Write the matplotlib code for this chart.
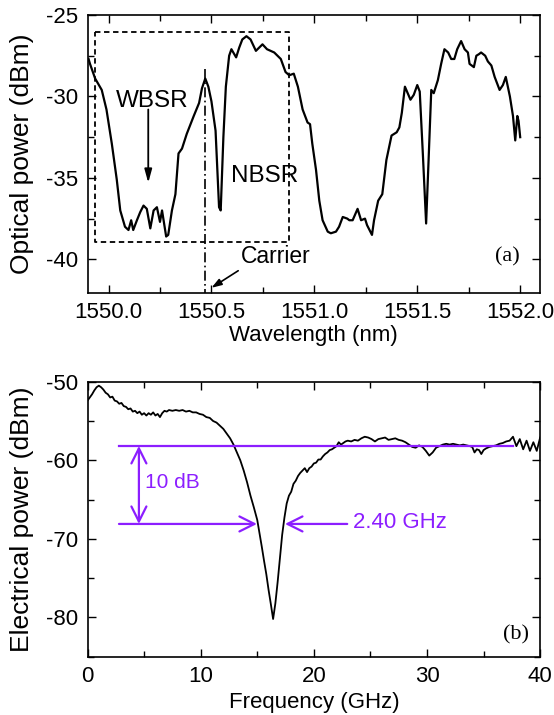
import matplotlib
matplotlib.use('Agg')
import matplotlib.pyplot as plt
from matplotlib.ticker import MultipleLocator

plt.rcParams['font.family'] = ['Liberation Sans', 'DejaVu Sans']
plt.rcParams['axes.unicode_minus'] = False

# panel (a): optical spectrum
wavelength = [1549.903, 1549.91, 1549.935, 1549.967, 1549.99, 1550.016, 1550.04, 1550.057,
              1550.08, 1550.097, 1550.11, 1550.12, 1550.138, 1550.154, 1550.17, 1550.186,
              1550.203, 1550.219, 1550.235, 1550.25, 1550.26, 1550.28, 1550.29, 1550.308,
              1550.325, 1550.34, 1550.357, 1550.38, 1550.414, 1550.44, 1550.454, 1550.47,
              1550.485, 1550.50, 1550.52, 1550.537, 1550.545, 1550.558, 1550.57, 1550.586,
              1550.597, 1550.62, 1550.635, 1550.65, 1550.67, 1550.69, 1550.716, 1550.748,
              1550.77, 1550.805, 1550.837, 1550.86, 1550.878, 1550.90, 1550.92, 1550.943,
              1550.967, 1550.979, 1550.99, 1551.008, 1551.024, 1551.04, 1551.065, 1551.08,
              1551.105, 1551.12, 1551.138, 1551.16, 1551.17, 1551.186, 1551.21, 1551.227,
              1551.246, 1551.256, 1551.28, 1551.29, 1551.31, 1551.33, 1551.35, 1551.375,
              1551.40, 1551.413, 1551.425, 1551.44, 1551.467, 1551.483, 1551.50, 1551.512,
              1551.527, 1551.543, 1551.555, 1551.568, 1551.58, 1551.60, 1551.616, 1551.632,
              1551.65, 1551.665, 1551.68, 1551.694, 1551.713, 1551.73, 1551.746, 1551.754,
              1551.775, 1551.787, 1551.80, 1551.81, 1551.83, 1551.843, 1551.86, 1551.876,
              1551.90, 1551.916, 1551.93, 1551.95, 1551.965, 1551.976, 1551.986, 1551.992,
              1552.0]
optical_power = [-27.7, -28.0, -28.9, -29.6, -30.8, -32.9, -35.1, -37.0,
                 -38.0, -38.2, -37.6, -38.2, -37.6, -37.1, -36.7, -36.9,
                 -38.1, -37.0, -36.8, -37.7, -37.0, -38.6, -38.5, -37.0,
                 -36.0, -33.5, -33.2, -32.3, -31.2, -30.4, -29.5, -28.9,
                 -29.4, -30.3, -32.1, -36.8, -37.0, -32.5, -29.4, -27.5,
                 -27.1, -27.6, -27.0, -26.5, -26.3, -26.5, -27.2, -26.8,
                 -27.1, -27.3, -27.7, -28.5, -28.7, -28.6, -29.4, -30.8,
                 -31.6, -31.7, -32.9, -34.5, -36.4, -37.6, -38.3, -38.4,
                 -38.3, -38.0, -37.4, -37.5, -37.6, -37.6, -36.9, -37.6,
                 -37.5, -37.9, -38.5, -37.6, -36.4, -36.0, -33.9, -32.4,
                 -32.2, -31.9, -31.0, -29.4, -30.2, -29.9, -29.3, -29.7,
                 -33.5, -37.8, -33.9, -29.6, -29.8, -29.0, -28.0, -27.1,
                 -27.3, -27.7, -27.7, -27.1, -26.6, -27.1, -27.3, -28.0,
                 -28.2, -27.5, -27.4, -27.3, -27.5, -27.85, -28.1, -28.8,
                 -29.6, -29.3, -28.8, -30.0, -31.2, -32.7, -31.2, -31.5,
                 -32.5]

# panel (b): electrical response
frequency = [0.0, 0.2, 0.4, 0.6, 0.8, 1.0, 1.2, 1.4, 1.6, 1.8, 2.0, 2.2, 2.4, 2.6, 2.8,
             3.0, 3.2, 3.4, 3.6, 3.8, 4.0, 4.2, 4.4, 4.6, 4.8, 5.0, 5.2, 5.4, 5.6, 5.8,
             6.0, 6.2, 6.4, 6.6, 6.8, 7.0, 7.2, 7.5, 7.8, 8.1, 8.4, 8.7, 9.0, 9.3, 9.6,
             9.9, 10.2, 10.5, 10.8, 11.1, 11.4, 11.7, 12.0, 12.3, 12.6, 12.9, 13.2, 13.5,
             13.8, 14.1, 14.4, 14.7, 15.0, 15.2, 15.4, 15.6, 15.8, 16.0, 16.2, 16.4, 16.6,
             16.8, 17.0, 17.2, 17.4, 17.6, 17.8, 18.0, 18.2, 18.4, 18.6, 18.8, 19.0, 19.2,
             19.4, 19.6, 19.8, 20.0, 20.2, 20.4, 20.6, 20.8, 21.0, 21.2, 21.4, 21.6, 21.8,
             22.0, 22.2, 22.4, 22.6, 22.8, 23.0, 23.3, 23.6, 23.9, 24.2, 24.5, 24.8, 25.1,
             25.4, 25.7, 26.0, 26.3, 26.6, 26.9, 27.2, 27.5, 27.8, 28.1, 28.4, 28.7, 29.0,
             29.3, 29.6, 29.9, 30.2, 30.5, 30.8, 31.1, 31.4, 31.7, 32.0, 32.3, 32.6, 32.9,
             33.2, 33.5, 33.8, 34.0, 34.2, 34.4, 34.6, 34.8, 35.0, 35.2, 35.5, 35.8, 36.1,
             36.4, 36.7, 37.0, 37.3, 37.6, 37.9, 38.2, 38.5, 38.8, 39.1, 39.4, 39.7, 40.0]
electrical_power = [-52.4, -52.0, -51.6, -51.1, -50.7, -50.5, -50.7, -51.0, -51.4, -51.6,
                    -52.0, -51.9, -52.4, -52.5, -52.8, -52.7, -53.1, -53.2, -53.5, -53.4,
                    -53.8, -53.7, -54.0, -53.8, -54.2, -54.0, -54.3, -54.0, -54.2, -53.9,
                    -54.3, -54.1, -54.5, -54.0, -53.7, -53.8, -53.6, -53.7, -53.6, -53.7,
                    -53.6, -53.8, -53.7, -53.9, -53.9, -54.1, -54.2, -54.5, -54.6, -55.0,
                    -55.2, -55.6, -56.0, -56.6, -57.2, -58.0, -59.0, -60.0, -61.3, -62.8,
                    -64.5, -66.0, -67.6, -69.3, -71.0, -72.8, -74.5, -76.5, -78.3, -80.2,
                    -78.2, -75.5, -72.5, -69.5, -67.3, -65.5, -64.5, -64.0, -63.0, -62.6,
                    -62.0, -61.6, -61.3, -61.0, -61.5, -61.0, -60.8, -60.4, -60.3, -59.9,
                    -59.9, -59.5, -59.2, -59.0, -58.7, -58.6, -58.4, -58.2, -57.7, -58.0,
                    -57.8, -57.6, -57.5, -57.6, -57.4, -57.5, -57.2, -57.0, -57.1, -57.3,
                    -57.6, -57.3, -57.2, -57.1, -57.4, -57.3, -57.2, -57.4, -57.5, -57.7,
                    -58.0, -58.3, -58.4, -58.1, -58.3, -58.8, -59.4, -59.0, -58.4, -58.2,
                    -58.0, -57.9, -58.0, -57.9, -58.0, -58.1, -58.0, -58.1, -58.2, -58.3,
                    -59.0, -58.6, -58.7, -59.2, -58.7, -58.5, -58.3, -58.2, -58.1, -57.9,
                    -57.8, -57.6, -57.5, -57.0, -58.2, -57.3, -58.6, -57.5, -58.8, -57.7,
                    -58.8, -57.1]

purple = '#8C1EFF'
fs = 16
fs_ylab = 19

fig = plt.figure(figsize=(5.54, 7.15), dpi=100)
ax1 = fig.add_axes([0.158, 0.5906, 0.817, 0.3884])
ax2 = fig.add_axes([0.158, 0.0815, 0.817, 0.3846])

for ax in (ax1, ax2):
    ax.tick_params(which='both', direction='in', top=True, right=True, labelsize=fs)
    ax.tick_params(which='major', length=6, width=1, pad=7)
    ax.tick_params(which='minor', length=4, width=1)
    for s in ax.spines.values():
        s.set_linewidth(1.2)

# (a)
ax1.plot(wavelength, optical_power, color='k', lw=1.6)
ax1.set_xlim(1549.898, 1552.097)
ax1.set_ylim(-42.05, -25)
ax1.xaxis.set_major_locator(MultipleLocator(0.5))
ax1.xaxis.set_minor_locator(MultipleLocator(0.25))
ax1.yaxis.set_major_locator(MultipleLocator(5))
ax1.yaxis.set_minor_locator(MultipleLocator(2.5))
ax1.xaxis.set_major_formatter(plt.FormatStrFormatter('%.1f'))
ax1.set_xlabel('Wavelength (nm)', fontsize=fs)
ax1.set_ylabel('Optical power (dBm)', fontsize=fs_ylab)
ax1.xaxis.set_label_coords(0.5, -0.118)
ax1.yaxis.set_label_coords(-0.118, 0.5)

# dashed box around WBSR/NBSR, carrier line
ax1.plot([1549.933, 1550.875, 1550.875, 1549.933, 1549.933],
         [-26.06, -26.06, -38.93, -38.93, -26.06],
         color='k', lw=1.3, ls=(0, (3, 2)))
ax1.plot([1550.469, 1550.469], [-28.3, -42.05], color='k', lw=1.2, ls=(0, (6, 2, 1, 2)))
ax1.annotate('', xy=(1550.193, -35.3), xytext=(1550.193, -30.8),
             arrowprops=dict(arrowstyle='-|>,head_length=0.8,head_width=0.22', color='k',
                             lw=1.3, shrinkA=0, shrinkB=0))
ax1.text(1550.21, -30.3, 'WBSR', fontsize=17.5, ha='center', va='center')
ax1.text(1550.756, -34.9, 'NBSR', fontsize=17.5, ha='center', va='center')
ax1.annotate('', xy=(1550.50, -41.75), xytext=(1550.63, -40.7),
             arrowprops=dict(arrowstyle='-|>,head_length=0.6,head_width=0.2', color='k',
                             lw=1.2, shrinkA=0, shrinkB=0))
ax1.text(1550.643, -39.85, 'Carrier', fontsize=16.5, ha='left', va='center')
ax1.text(1551.94, -39.85, '(a)', fontsize=fs, ha='center', va='center',
         family=['Liberation Serif', 'DejaVu Serif'])

# (b)
ax2.plot(frequency, electrical_power, color='k', lw=1.3)
ax2.set_xlim(0, 40)
ax2.set_ylim(-85, -50)
ax2.xaxis.set_major_locator(MultipleLocator(10))
ax2.xaxis.set_minor_locator(MultipleLocator(5))
ax2.yaxis.set_major_locator(MultipleLocator(10))
ax2.yaxis.set_minor_locator(MultipleLocator(5))
ax2.set_xlabel('Frequency (GHz)', fontsize=fs)
ax2.set_ylabel('Electrical power (dBm)', fontsize=fs_ylab)
ax2.xaxis.set_label_coords(0.5, -0.128)
ax2.yaxis.set_label_coords(-0.118, 0.5)

head = '->,head_length=0.6,head_width=0.3'
ax2.plot([2.78, 37.64], [-58.17, -58.17], color=purple, lw=1.6)
ax2.annotate('', xy=(14.97, -68.1), xytext=(2.78, -68.1),
             arrowprops=dict(arrowstyle=head, color=purple, lw=1.6, shrinkA=0, shrinkB=0,
                             mutation_scale=18))
ax2.annotate('', xy=(17.45, -68.1), xytext=(22.95, -68.1),
             arrowprops=dict(arrowstyle=head, color=purple, lw=1.6, shrinkA=0, shrinkB=0,
                             mutation_scale=18))
ax2.annotate('', xy=(4.54, -68.1), xytext=(4.54, -58.17),
             arrowprops=dict(arrowstyle='<->,head_length=0.6,head_width=0.3', color=purple,
                             lw=1.6, shrinkA=0, shrinkB=0, mutation_scale=18))
ax2.text(5.1, -62.8, '10 dB', fontsize=15, color=purple, ha='left', va='center')
ax2.text(23.5, -67.9, '2.40 GHz', fontsize=fs, color=purple, ha='left', va='center')
ax2.text(37.9, -82.2, '(b)', fontsize=fs, ha='center', va='center',
         family=['Liberation Serif', 'DejaVu Serif'])

fig.savefig('out.png', dpi=100)
